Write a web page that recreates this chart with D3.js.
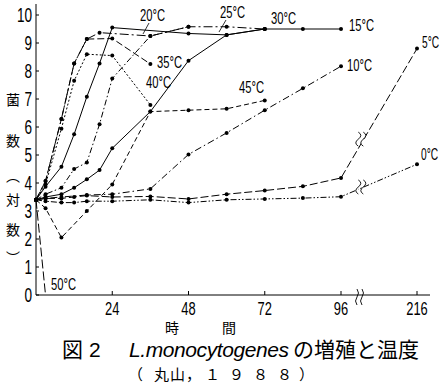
<!DOCTYPE html>
<html>
<head>
<meta charset="utf-8">
<script src="https://cdn.jsdelivr.net/npm/d3@7"></script>
<style>
  body { margin: 0; background: #fff; }
  svg { display: block; }
  .num { font-family: "Liberation Sans", Arial, sans-serif; }
  .jp { font-family: "Noto Sans CJK JP", sans-serif; }
</style>
</head>
<body>
<div id="app"></div>
<script>
// hours, log count
const s0  = [[0,3.4],[3,3.35],[8,3.3],[12,3.3],[16,3.35],[24,3.35],[36,3.4],[48,3.3],[60,3.4],[72,3.43],[84,3.46],[96,3.51],[216,4.67]];
const s5  = [[0,3.4],[3,3.45],[8,3.45],[12,3.5],[16,3.55],[24,3.5],[36,3.52],[48,3.43],[60,3.6],[72,3.73],[84,3.88],[96,4.18],[216,8.8]];
const s10 = [[0,3.4],[3,3.45],[8,3.5],[16,3.57],[24,3.6],[36,3.79],[48,5.02],[60,5.79],[72,6.6],[84,7.38],[96,8.17]];
const s15 = [[0,3.4],[3,3.5],[8,3.6],[12,3.83],[16,4.13],[20,4.46],[24,5.24],[36,6.55],[48,8.37],[60,9.29],[72,9.5],[84,9.5],[96,9.5]];
const s20 = [[0,3.4],[3,3.6],[8,3.83],[12,4.5],[16,4.73],[20,6.1],[24,7.73],[36,9.25],[48,9.58]];
const s25 = [[0,3.4],[3,4.07],[8,6.29],[12,8.27],[16,9.14],[20,9.37],[36,9.25],[48,9.58],[60,9.58],[72,9.5]];
const s30 = [[0,3.4],[3,3.87],[8,4.58],[12,5.74],[16,7.08],[20,8.27],[24,9.55],[48,9.34],[60,9.29],[72,9.5]];
const s35 = [[0,3.4],[3,4.07],[8,6.29],[12,8.27],[16,9.14],[24,9.16],[36,8.25]];
const s40 = [[0,3.4],[3,3.95],[8,5.94],[12,7.65],[16,8.6],[24,8.55],[36,6.79]];
const s45 = [[0,3.4],[3,3.1],[8,2.05],[16,3.0],[24,3.95],[36,6.55],[48,6.6],[60,6.65],[72,6.95]];
const s50 = [[0,3.4],[3,0]];

const xTicks = [24, 48, 72, 96, 216];
const yTicks = [0,1,2,3,4,5,6,7,8,9,10];

const series = [
  {d: s0,  dash: "6,2,1.5,2,1.5,2", label: "0°C",  lx: 421, ly: 160},
  {d: s5,  dash: "8,3",             label: "5°C",  lx: 422, ly: 48},
  {d: s10, dash: "7,3,1.5,3",       label: "10°C", lx: 347, ly: 71},
  {d: s15, dash: null,              label: "15°C", lx: 349, ly: 31},
  {d: s20, dash: "6,2.5,1.5,2.5",   label: "20°C", lx: 140, ly: 21},
  {d: s25, dash: "9,3,2,3",         label: "25°C", lx: 220, ly: 18},
  {d: s30, dash: null,              label: "30°C", lx: 271, ly: 24},
  {d: s35, dash: "7,3",             label: "35°C", lx: 157, ly: 68},
  {d: s40, dash: "2,2",             label: "40°C", lx: 146, ly: 88},
  {d: s45, dash: "5,3",             label: "45°C", lx: 239, ly: 93},
  {d: s50, dash: "9,3",             label: "50°C", lx: 51,  ly: 290}
];

const width = 441, height = 387;
const x = d3.scaleLinear().domain([0, 96, 216]).range([36, 341, 417]);
const y = d3.scaleLinear().domain([0, 10]).range([295, 15]);

const svg = d3.select("#app").append("svg")
  .attr("width", width).attr("height", height);

// condensed text: squeeze horizontally
function narrow(sel, px, py, txt, size, anchor, sx) {
  return sel.append("text").attr("class", "num")
    .attr("transform", `translate(${px},${py}) scale(${sx || 0.7},1)`)
    .attr("text-anchor", anchor || "start")
    .attr("font-size", size)
    .text(txt);
}

// axes
svg.append("line").attr("x1", 36).attr("x2", 36).attr("y1", 4).attr("y2", y(0))
  .attr("stroke", "#000").attr("stroke-width", 1);
svg.append("line").attr("x1", 36).attr("x2", 430).attr("y1", y(0)).attr("y2", y(0))
  .attr("stroke", "#000").attr("stroke-width", 1);

svg.selectAll(".ytick").data(yTicks).join("line")
  .attr("x1", 36).attr("x2", 39)
  .attr("y1", d => y(d)).attr("y2", d => y(d))
  .attr("stroke", "#000");
yTicks.forEach(d => narrow(svg, 32, y(d) + 7, d, 20, "end", 0.68));

svg.selectAll(".xtick").data(xTicks).join("line")
  .attr("x1", d => x(d)).attr("x2", d => x(d))
  .attr("y1", y(0)).attr("y2", y(0) - 4)
  .attr("stroke", "#000");
xTicks.forEach(d => narrow(svg, x(d), 315, d, 19, "middle", 0.68));

// axis break
const brk = d => `M${d - 2},${289} q3,4 0,8 q-3,4 0,8`;
[359, 364].forEach(b => {
  svg.append("path").attr("d", brk(b)).attr("fill", "none").attr("stroke", "#000").attr("stroke-width", 0.9);
});

// lines
const line = d3.line().x(d => x(d[0])).y(d => y(d[1]));
const g = svg.append("g");
series.forEach(s => {
  g.append("path").datum(s.d)
    .attr("d", line)
    .attr("fill", "none")
    .attr("stroke", "#000")
    .attr("stroke-width", 1)
    .attr("stroke-dasharray", s.dash);
  g.selectAll(null).data(s.d.filter(p => p[1] > 0)).join("circle")
    .attr("cx", d => x(d[0])).attr("cy", d => y(d[1]))
    .attr("r", 2).attr("fill", "#000");
  narrow(g, s.lx, s.ly, s.label, 17, "start", s.label.length < 4 ? 0.6 : 0.66);
});

// break marks on 5°C and 0°C lines (between 96 h and 216 h)
[s5, s0].forEach(s => {
  const a = s[s.length - 2], b = s[s.length - 1];
  const t = 0.3;
  const px = x(a[0]) + (x(b[0]) - x(a[0])) * t;
  const py = y(a[1]) + (y(b[1]) - y(a[1])) * t;
  [-2.5, 2.5].forEach(o => {
    svg.append("path")
      .attr("d", `M${px + o - 3},${py - 7} q5,3 0,7 q-5,4 0,7`)
      .attr("fill", "#fff").attr("stroke", "#000").attr("stroke-width", 0.9);
  });
});

// leader lines for 20°C and 25°C
svg.append("line").attr("x1", 149).attr("y1", 23).attr("x2", 143).attr("y2", 34).attr("stroke", "#000").attr("stroke-width", 0.8);
svg.append("line").attr("x1", 226).attr("y1", 20).attr("x2", 219).attr("y2", 32).attr("stroke", "#000").attr("stroke-width", 0.8);

// y label (vertical)
const yLab = [["菌", 100], ["数", 141], ["︵", 176], ["対", 200], ["数", 230], ["︶", 258]];
svg.selectAll(".ylabch").data(yLab).join("text")
  .attr("class", "jp")
  .attr("x", 13).attr("y", d => d[1] + 5)
  .attr("text-anchor", "middle")
  .attr("font-size", 14)
  .text(d => d[0]);

// x label
svg.append("text").attr("class", "jp").attr("x", 172).attr("y", 333)
  .attr("text-anchor", "middle").attr("font-size", 14).text("時");
svg.append("text").attr("class", "jp").attr("x", 229).attr("y", 333)
  .attr("text-anchor", "middle").attr("font-size", 14).text("間");

// caption
const cap = svg.append("g").attr("class", "jp").attr("font-size", 21);
cap.append("text").attr("x", 62).attr("y", 357).text("図");
cap.append("text").attr("x", 89).attr("y", 357).attr("class", "num").text("2");
cap.append("text").attr("x", 129).attr("y", 357)
  .attr("class", "num").attr("font-style", "italic").attr("textLength", 160)
  .text("L.monocytogenes");
cap.append("text").attr("x", 293).attr("y", 357).text("の増殖と温度");

// citation
const cite = [["（", 128], ["丸", 154], ["山", 170], ["，", 186], ["１", 205], ["９", 229], ["８", 253], ["８", 277], ["）", 299]];
svg.selectAll(".cite").data(cite).join("text")
  .attr("class", "jp")
  .attr("x", d => d[1]).attr("y", 380)
  .attr("font-size", 15)
  .text(d => d[0]);
</script>
</body>
</html>
